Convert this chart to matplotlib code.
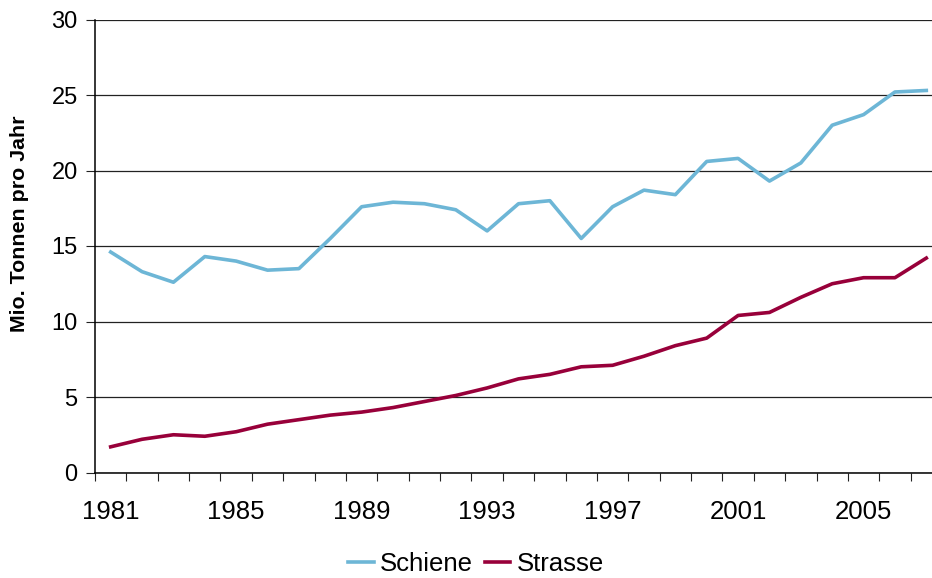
import matplotlib
matplotlib.use("Agg")
import matplotlib.pyplot as plt
import numpy as np

years = list(range(1981, 2008))
schiene = [14.6, 13.3, 12.6, 14.3, 14.0, 13.4, 13.5, 15.5, 17.6, 17.9,
           17.8, 17.4, 16.0, 17.8, 18.0, 15.5, 17.6, 18.7, 18.4, 20.6,
           20.8, 19.3, 20.5, 23.0, 23.7, 25.2, 25.3]
strasse = [1.7, 2.2, 2.5, 2.4, 2.7, 3.2, 3.5, 3.8, 4.0, 4.3,
           4.7, 5.1, 5.6, 6.2, 6.5, 7.0, 7.1, 7.7, 8.4, 8.9,
           10.4, 10.6, 11.6, 12.5, 12.9, 12.9, 14.2]
y_ticks = [0, 5, 10, 15, 20, 25, 30]
x_label_years = [1981, 1985, 1989, 1993, 1997, 2001, 2005]

plt.rcParams['font.family'] = ['Liberation Sans', 'DejaVu Sans']

W, H = 932, 578
fig = plt.figure(figsize=(W / 100, H / 100), dpi=100)
ax = fig.add_axes([95 / W, (H - 472.5) / H, (942 - 95) / W, 453 / H])

x = np.arange(len(years))
ax.plot(x, schiene, color='#6DB6D6', lw=2.6, label='Schiene')
ax.plot(x, strasse, color='#98003A', lw=2.6, label='Strasse')

ax.set_xlim(-0.5, len(years) - 0.5)
ax.set_ylim(0, 30)
ax.set_yticks(y_ticks)
ax.set_yticklabels([str(v) for v in y_ticks])
ax.yaxis.grid(True, color='#222222', lw=0.9)
ax.set_axisbelow(True)

ax.set_xticks([years.index(yy) for yy in x_label_years])
ax.set_xticklabels([str(yy) for yy in x_label_years])
ax.set_xticks(np.arange(-0.5, len(years), 1.0), minor=True)
ax.tick_params(axis='x', which='major', length=0, pad=20, labelsize=18.5)
ax.tick_params(axis='x', which='minor', length=6, width=0.8, direction='out', color='#222222')
ax.tick_params(axis='y', which='major', length=6.5, width=0.8, direction='out', pad=6, labelsize=17, color='#222222')

for s in ['top', 'right']:
    ax.spines[s].set_visible(False)
for s in ['left', 'bottom']:
    ax.spines[s].set_color('black')
    ax.spines[s].set_linewidth(1.1)

fig.text(20 / W, 1 - 224 / H, 'Mio. Tonnen pro Jahr', rotation=90, fontsize=15.4,
         fontweight='bold', ha='center', va='center')

fig.legend(loc='center', bbox_to_anchor=(476 / W, 1 - 564 / H), ncol=2, frameon=False,
           fontsize=18.5, handlelength=1.0, handletextpad=0.25, columnspacing=0.45,
           borderpad=0, borderaxespad=0)

fig.savefig('out.png', dpi=100)
